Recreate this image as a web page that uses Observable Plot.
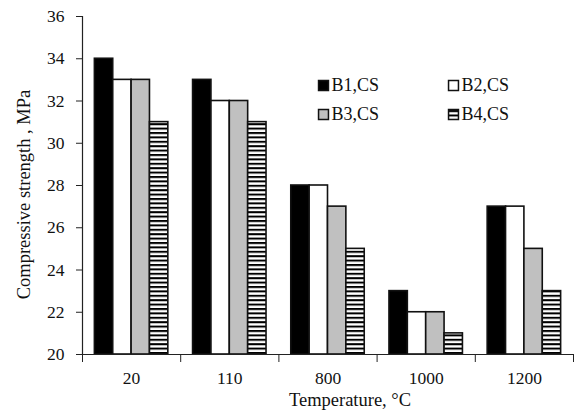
<!DOCTYPE html>
<html>
<head>
<meta charset="utf-8">
<script src="https://cdn.jsdelivr.net/npm/d3@7"></script>
<script src="https://cdn.jsdelivr.net/npm/@observablehq/plot@0.6"></script>
<style>
  html, body { margin: 0; padding: 0; background: #fff; }
</style>
</head>
<body>
<div id="chart"></div>
<script>
const temperatures = ["20", "110", "800", "1000", "1200"];
const seriesNames = ["B1,CS", "B2,CS", "B3,CS", "B4,CS"];
const b1 = [34, 33, 28, 23, 27];
const b2 = [33, 32, 28, 22, 27];
const b3 = [33, 32, 27, 22, 25];
const b4 = [31, 31, 25, 21, 23];
const yTicks = [20, 22, 24, 26, 28, 30, 32, 34, 36];

const seriesValues = [b1, b2, b3, b4];
const fills = ["#000000", "#ffffff", "#c0c0c0", "url(#stripes)"];
const barW = 0.187; // bar width in group units
const nS = seriesNames.length;

const data = [];
seriesValues.forEach((vals, si) => {
  vals.forEach((v, gi) => {
    const x1 = gi + 0.5 + (si - nS / 2) * barW;
    data.push({series: seriesNames[si], si, temp: temperatures[gi], x1, x2: x1 + barW, value: v});
  });
});

const barMarks = seriesNames.map((s, si) =>
  Plot.rectY(data.filter(d => d.si === si), {
    x1: "x1", x2: "x2", y1: () => 20, y2: "value",
    fill: fills[si], stroke: "#111", strokeWidth: 1.6
  })
);

const legendPos = [[241, 69], [371, 69], [241, 98], [371, 98]];
const legendMarks = seriesNames.flatMap((s, si) => [
  Plot.dot([s], {frameAnchor: "top-left", dx: legendPos[si][0], dy: legendPos[si][1],
    symbol: "square", r: 5.6, fill: fills[si], stroke: "#111", strokeWidth: 1.5}),
  Plot.text([s], {frameAnchor: "top-left", dx: legendPos[si][0] + 8, dy: legendPos[si][1],
    text: d => d, textAnchor: "start", lineAnchor: "middle", fill: "#111", fontSize: 18})
]);

const chart = Plot.plot({
  width: 579,
  height: 412,
  marginLeft: 82,
  marginRight: 6,
  marginTop: 16,
  marginBottom: 58,
  style: {fontFamily: "'Liberation Serif', 'Times New Roman', serif", fontSize: "17.5px", color: "#111", background: "#fff"},
  x: {type: "linear", domain: [0, temperatures.length], axis: null},
  y: {domain: [20, 36], axis: null},
  marks: [
    ...barMarks,
    Plot.ruleX([0], {stroke: "#222", strokeWidth: 1.2}),
    Plot.ruleY([20], {stroke: "#222", strokeWidth: 1.2}),
    Plot.axisY({ticks: yTicks, tickSize: 6, tickPadding: 12, tickFormat: d => String(d), stroke: "#222", fill: "#111", label: null}),
    Plot.axisX({ticks: d3.range(temperatures.length + 1), tickSize: 8, tickFormat: () => "", stroke: "#222", label: null}),
    Plot.axisX({ticks: temperatures.map((t, i) => i + 0.5), tickSize: 0, tickPadding: 17,
      tickFormat: d => temperatures[Math.floor(d)], fill: "#111", label: null}),
    Plot.text(["Temperature, °C"], {frameAnchor: "bottom", dx: 22, dy: 46, lineAnchor: "middle", textAnchor: "middle",
      text: d => d, fill: "#111", fontSize: 18.5}),
    Plot.text(["Compressive strength , MPa"], {frameAnchor: "left", dx: -58, dy: 9, rotate: -90,
      textAnchor: "middle", lineAnchor: "middle", text: d => d, fill: "#111", fontSize: 18.5}),
    ...legendMarks
  ]
});

chart.insertAdjacentHTML("afterbegin",
  '<defs><pattern id="stripes" patternUnits="userSpaceOnUse" width="8" height="4.4">' +
  '<rect width="8" height="4.4" fill="#ffffff"></rect><rect y="0" width="8" height="2" fill="#000000"></rect>' +
  '</pattern></defs>');

document.getElementById("chart").appendChild(chart);
</script>
</body>
</html>
